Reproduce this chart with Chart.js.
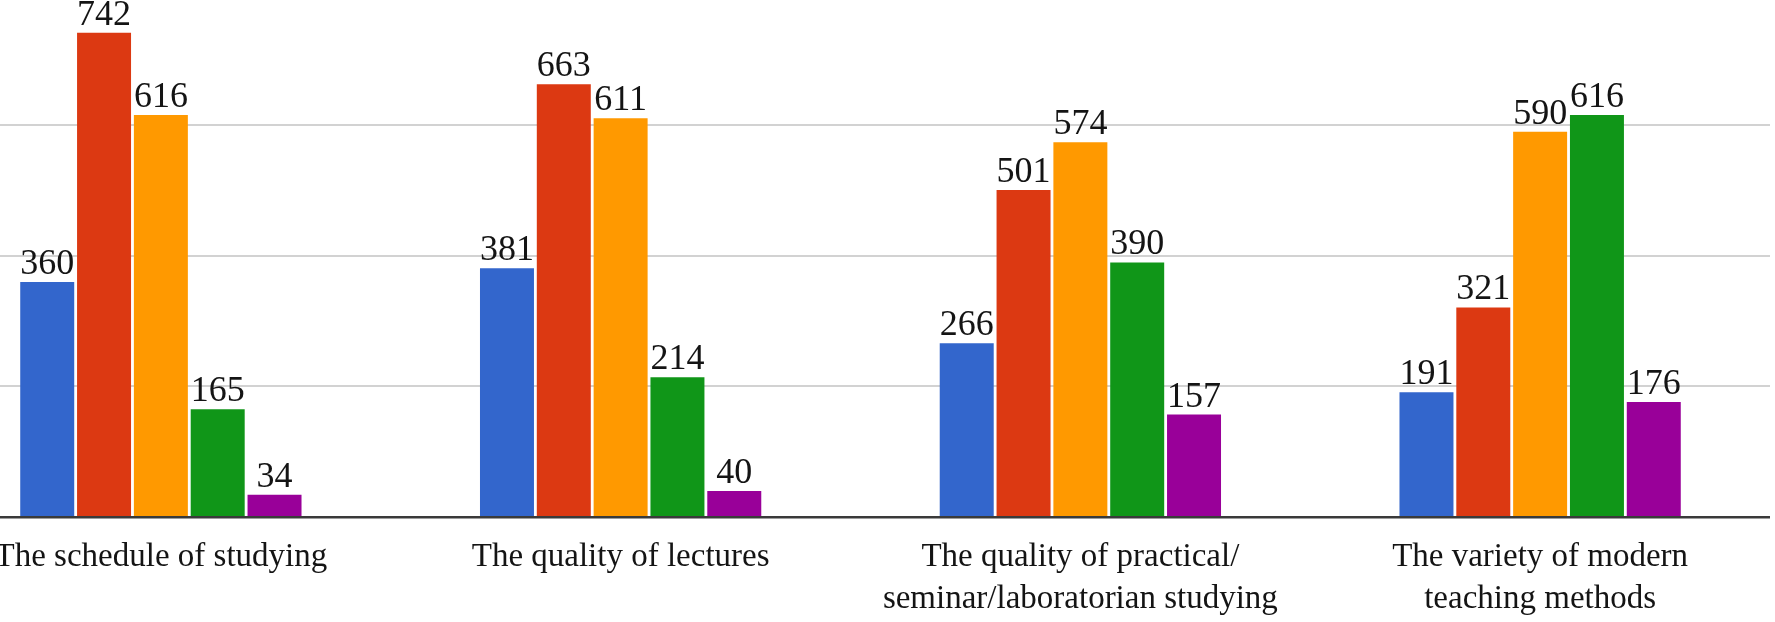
<html>
    <head>
        <title>Evaluation chart</title>
        <script src="https://cdn.jsdelivr.net/npm/chart.js@4.4.1/dist/chart.umd.min.js"></script>
        <style>
            body { margin: 0; overflow: hidden; background: #ffffff; }
            #wrap { position: absolute; left: -69px; top: 0; width: 1839px; height: 642px; }
        </style>
    </head>
    <body>
        <div id="wrap">
            <canvas id="myChart"></canvas>
        </div>
    <script type="text/javascript">
    // categories (x axis)
    var categories = [
        ["The schedule of studying"],
        ["The quality of lectures"],
        ["The quality of practical/", "seminar/laboratorian studying"],
        ["The variety of modern", "teaching methods"]
    ];

    // one array per coloured series
    var blueValues   = [360, 381, 266, 191];
    var redValues    = [742, 663, 501, 321];
    var orangeValues = [616, 611, 574, 590];
    var greenValues  = [165, 214, 390, 616];
    var purpleValues = [34, 40, 157, 176];

    // horizontal grid lines
    var gridValues = [0, 200, 400, 600];

    var seriesNames = ["Series 1", "Series 2", "Series 3", "Series 4", "Series 5"];
    var colors = ['#3366cc', '#dc3912', '#ff9900', '#109618', '#990099'];

    // value labels above each bar
    var valueLabels = {
        id: 'valueLabels',
        afterDatasetsDraw: function(chart) {
            var ctx = chart.ctx;
            ctx.save();
            ctx.font = '36px "Liberation Serif"';
            ctx.fillStyle = '#141414';
            ctx.textAlign = 'center';
            ctx.textBaseline = 'alphabetic';
            chart.data.datasets.forEach(function(ds, i) {
                var meta = chart.getDatasetMeta(i);
                meta.data.forEach(function(bar, j) {
                    ctx.fillText(String(ds.data[j]), bar.x, bar.y - 8);
                });
            });
            ctx.restore();
        }
    };

    var allSeries = [blueValues, redValues, orangeValues, greenValues, purpleValues];
    var datasets = allSeries.map(function(vals, i) {
        return {
            label: seriesNames[i],
            data: vals,
            backgroundColor: colors[i],
            borderWidth: 0,
            barPercentage: 0.95,
            categoryPercentage: 0.618
        };
    });

    var ctx = document.getElementById("myChart").getContext('2d');
    var myChart = new Chart(ctx, {
        type: 'bar',
        data: {
            labels: categories,
            datasets: datasets
        },
        options: {
            responsive: true,
            maintainAspectRatio: false,
            animation: false,
            layout: { padding: { top: 0, left: 0, right: 0, bottom: 3 } },
            plugins: {
                legend: { display: false },
                tooltip: { enabled: false }
            },
            scales: {
                x: {
                    grid: { display: false, drawTicks: false },
                    border: { display: true, color: '#3a3a3a', width: 2.5, z: 1 },
                    ticks: {
                        color: '#141414',
                        padding: 19,
                        maxRotation: 0,
                        autoSkip: false,
                        font: { family: 'Liberation Serif', size: 33, lineHeight: '42px' }
                    }
                },
                y: {
                    min: 0,
                    max: 792,
                    afterBuildTicks: function(axis) {
                        axis.ticks = gridValues.map(function(v) { return { value: v }; });
                    },
                    grid: {
                        color: '#d2d2d2',
                        lineWidth: 2,
                        drawTicks: false
                    },
                    border: { display: false },
                    ticks: { display: false }
                }
            }
        },
        plugins: [valueLabels]
    });
    </script>
    </body>
</html>
